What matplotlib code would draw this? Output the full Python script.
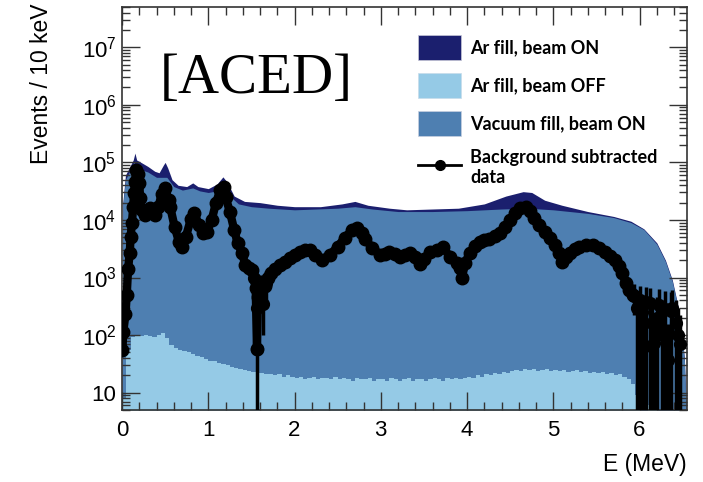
import numpy as np
import matplotlib
matplotlib.use("Agg")
import matplotlib.pyplot as plt
from matplotlib.patches import Patch
from matplotlib.lines import Line2D
from matplotlib.ticker import MultipleLocator, FixedLocator, LogLocator, FuncFormatter, NullFormatter

plt.rcParams["font.family"] = "Liberation Sans"
plt.rcParams["mathtext.fontset"] = "custom"
plt.rcParams["mathtext.rm"] = "Liberation Sans"
plt.rcParams["mathtext.it"] = "Liberation Sans:italic"
plt.rcParams["mathtext.bf"] = "Liberation Sans:bold"

# Ar fill, beam ON (top envelope)
e_on = [0.0, 0.01, 0.04, 0.10, 0.13, 0.15, 0.17, 0.22, 0.30, 0.38, 0.43, 0.48, 0.50,
        0.53, 0.58, 0.65, 0.75, 0.82, 0.88, 1.00, 1.10, 1.17, 1.22, 1.30, 1.42, 1.60,
        1.80, 2.00, 2.30, 2.55, 2.70, 2.85, 3.10, 3.30, 3.60, 3.90, 4.20, 4.45, 4.65,
        4.75, 4.90, 5.10, 5.40, 5.70, 5.90, 6.05, 6.20, 6.30, 6.38, 6.44, 6.48, 6.52, 6.54]
ar_on = [5, 2.0e4, 6.0e4, 9.0e4, 1.1e5, 1.45e5, 1.1e5, 1.0e5, 8.5e4, 7.0e4, 6.6e4, 9.0e4, 1.0e5,
         8.0e4, 5.0e4, 4.0e4, 3.8e4, 4.4e4, 3.8e4, 3.5e4, 4.2e4, 5.6e4, 4.5e4, 2.6e4, 2.1e4, 2.0e4,
         1.8e4, 1.7e4, 1.7e4, 1.9e4, 2.1e4, 1.8e4, 1.6e4, 1.5e4, 1.55e4, 1.6e4, 1.9e4, 2.6e4, 3.1e4,
         3.0e4, 2.2e4, 1.8e4, 1.4e4, 1.15e4, 9.5e3, 7.0e3, 4.0e3, 2.0e3, 900, 350, 150, 40, 5]

# Vacuum fill, beam ON
e_vac = [0.0, 0.01, 0.04, 0.10, 0.14, 0.17, 0.22, 0.30, 0.40, 0.48, 0.52, 0.60, 0.70, 0.82,
         0.90, 1.00, 1.15, 1.25, 1.35, 1.50, 1.70, 2.00, 2.50, 2.70, 2.90, 3.20, 3.60, 4.00,
         4.40, 4.70, 5.00, 5.40, 5.70, 5.90, 6.05, 6.20, 6.30, 6.38, 6.44, 6.48, 6.52, 6.54]
vac = [5, 1.8e4, 5.0e4, 7.5e4, 1.0e5, 8.0e4, 7.5e4, 6.8e4, 5.5e4, 5.5e4, 5.5e4, 3.8e4, 3.3e4, 3.6e4,
       3.2e4, 3.0e4, 3.3e4, 2.6e4, 1.9e4, 1.7e4, 1.6e4, 1.5e4, 1.6e4, 1.7e4, 1.55e4, 1.4e4, 1.4e4, 1.45e4,
       1.55e4, 1.6e4, 1.5e4, 1.3e4, 1.1e4, 9.0e3, 6.8e3, 3.8e3, 1.9e3, 850, 330, 140, 35, 5]

# Ar fill, beam OFF, 50 keV bins from 0 to 6.55 MeV
off_edges = np.arange(0, 6.5501, 0.05)
ar_off = [8, 55, 92, 98, 95, 100, 97, 94, 102, 108,
          88, 68, 60, 56, 52, 50, 47, 44, 41, 39,
          36, 35, 33, 31, 30, 28, 27, 26, 25, 24,
          23, 22, 22, 21, 21, 20, 21, 19, 20, 19,
          18, 19, 17, 18, 19, 17, 18, 18, 17, 19,
          17, 18, 17, 16, 18, 17, 17, 18, 16, 17,
          17, 16, 18, 17, 16, 17, 18, 16, 17, 17,
          16, 17, 18, 17, 16, 18, 17, 18, 17, 18,
          19, 18, 20, 19, 21, 20, 22, 21, 23, 22,
          24, 25, 24, 26, 25, 26, 24, 25, 26, 24,
          25, 24, 25, 23, 24, 25, 23, 24, 22, 23,
          22, 23, 21, 22, 20, 21, 19, 17, 14, 9,
          3, 2, 6, 5, 2, 1, 1, 1, 1, 1,
          1]

# background subtracted data
e_data = [0.005, 0.015, 0.04, 0.055, 0.07, 0.09, 0.10, 0.115, 0.13, 0.14, 0.15, 0.165, 0.18,
          0.20, 0.21, 0.23, 0.27, 0.32, 0.38, 0.42, 0.46, 0.50, 0.54, 0.56, 0.61, 0.66, 0.69,
          0.74, 0.80, 0.84, 0.89, 0.94, 0.98, 1.04, 1.09, 1.14, 1.18, 1.20, 1.25, 1.30, 1.34,
          1.39, 1.43, 1.47, 1.51, 1.55, 1.565, 1.575, 1.60, 1.66, 1.69, 1.73, 1.77, 1.83,
          1.89, 1.95, 2.00, 2.06, 2.12, 2.18, 2.24, 2.32, 2.41, 2.50, 2.58, 2.67, 2.73, 2.78,
          2.82, 2.90, 2.99, 3.05, 3.10, 3.16, 3.22, 3.28, 3.34, 3.40, 3.45, 3.50, 3.57, 3.65,
          3.72, 3.80, 3.88, 3.92, 3.94, 3.98, 4.03, 4.09, 4.15, 4.20, 4.26, 4.32, 4.38, 4.44,
          4.50, 4.56, 4.61, 4.68, 4.73, 4.78, 4.84, 4.90, 4.96, 5.02, 5.07, 5.10, 5.15, 5.19,
          5.25, 5.30, 5.38, 5.46, 5.53, 5.60, 5.66, 5.71, 5.76, 5.80, 5.84, 5.88, 5.92]
data = [56, 115, 230, 500, 1380, 2700, 5100, 8900, 17000, 29500, 46000, 75000, 62000,
        44000, 24000, 15000, 12300, 16000, 12300, 16500, 28000, 36000, 22000, 16500, 7600, 4200, 3400,
        5100, 10500, 13000, 8300, 6000, 6100, 10000, 20000, 33000, 37000, 25000, 14000, 6800, 4000,
        2700, 1660, 1450, 1350, 650, 57, 450, 550, 700, 1000, 1200, 1380, 1660,
        1870, 2200, 2500, 2800, 3000, 3000, 2500, 2050, 2500, 3400, 4900, 6700, 7300, 6000,
        4600, 3300, 2500, 2600, 2800, 2600, 2300, 2500, 2700, 2300, 1700, 2100, 2800, 3000,
        3400, 2300, 1800, 1470, 1000, 1800, 2700, 3500, 4200, 4500, 4600, 5200, 5900, 7500,
        10000, 13000, 16000, 17000, 14500, 11000, 8200, 6200, 4800, 3700, 2700, 1870, 2300, 2700,
        3100, 3400, 3600, 3700, 3300, 2800, 2400, 2050, 1600, 1180, 800, 600, 500]

# points with visible error bars
e_err = [1.53, 1.56, 1.565, 1.58, 1.61, 1.64, 1.67,
         5.94, 5.97, 6.00, 6.03, 6.06, 6.08, 6.12, 6.15, 6.17, 6.20, 6.23, 6.26, 6.29,
         6.33, 6.36, 6.38, 6.42, 6.44, 6.47]
d_err = [1000, 300, 57, 420, 600, 350, 800,
         470, 300, 410, 250, 64, 380, 360, 160, 74, 200, 330, 120, 280,
         37, 260, 300, 160, 100, 70]
err_lo = [400, 200, 56, 250, 300, 250, 400,
          250, 299, 405, 249, 63, 375, 355, 159, 73, 199, 250, 119, 275,
          36, 255, 200, 159, 99, 69]
err_hi = [500, 400, 300, 400, 500, 500, 500,
          300, 250, 300, 250, 150, 300, 300, 200, 150, 250, 300, 200, 300,
          120, 300, 300, 250, 200, 150]

c_on = "#1b1f6e"
c_off = "#95cae6"
c_vac = "#4e7fb1"

fig = plt.figure(figsize=(7.03, 4.82), dpi=100)
ax = fig.add_axes([122 / 703, 1 - 410 / 482, 565 / 703, 403 / 482])
ax.set_yscale("log")

ax.fill_between(e_on, ar_on, 1, color=c_on, lw=0)
ax.fill_between(e_vac, vac, 1, color=c_vac, lw=0)
ax.fill_between(off_edges, ar_off + [ar_off[-1]], 1, step="post", color=c_off, lw=0)

ax.plot(e_data, data, color="black", lw=6, marker="o", ms=9, zorder=5)
ax.errorbar(e_err, d_err, yerr=[err_lo, err_hi], fmt="o", color="black",
            ms=8.5, elinewidth=2.5, capsize=0, zorder=5)

ax.set_xlim(0, 6.55)
ax.set_ylim(5, 5e7)

ax.xaxis.set_major_locator(MultipleLocator(1))
ax.xaxis.set_minor_locator(MultipleLocator(0.2))
ax.yaxis.set_major_locator(FixedLocator([1e1, 1e2, 1e3, 1e4, 1e5, 1e6, 1e7]))
ax.yaxis.set_minor_locator(LogLocator(base=10, subs=np.arange(2, 10), numticks=12))
ax.yaxis.set_minor_formatter(NullFormatter())


def log_label(v, pos):
    p = int(round(np.log10(v)))
    if p == 1:
        return "10"
    return r"$10^{%d}$" % p


ax.yaxis.set_major_formatter(FuncFormatter(log_label))
ax.tick_params(which="both", direction="in", top=True, right=True, width=1, colors="#333333",
               labelcolor="black", labelsize=16)
ax.tick_params(which="major", length=13)
ax.tick_params(which="minor", length=6)
ax.tick_params(axis="x", pad=7)
ax.tick_params(axis="y", pad=4)
for s in ax.spines.values():
    s.set_color("#333333")
    s.set_linewidth(1.2)

fig.text(42 / 703, 1 - 4 / 482, "Events / 10 keV", rotation=90, ha="center", va="top", fontsize=16.5)
fig.text(687 / 703, 1 - 465 / 482, "E (MeV)", ha="right", va="center", fontsize=16.5)

fig.text(160 / 703, 1 - 93 / 482, "[ACED]", family="Liberation Serif", fontsize=41, va="baseline")

handles = [
    Patch(facecolor=c_on, edgecolor="#c8c8d8", lw=0.5),
    Patch(facecolor=c_off, edgecolor="#c8dcea", lw=0.5),
    Patch(facecolor=c_vac, edgecolor="#c8d0e0", lw=0.5),
    Line2D([0], [0], color="black", lw=2, marker="o", ms=7),
]
labels = ["Ar fill, beam ON", "Ar fill, beam OFF", "Vacuum fill, beam ON", "Background subtracted\ndata"]
fig.legend(handles, labels, loc="upper left", bbox_to_anchor=(418 / 703, 1 - 35 / 482),
           bbox_transform=fig.transFigure, frameon=False, borderpad=0, borderaxespad=0,
           handlelength=2.4, handleheight=1.75, handletextpad=0.5, labelspacing=0.72,
           prop={"family": "Lato", "weight": "bold", "size": 13})

fig.savefig("out.png", dpi=100)
